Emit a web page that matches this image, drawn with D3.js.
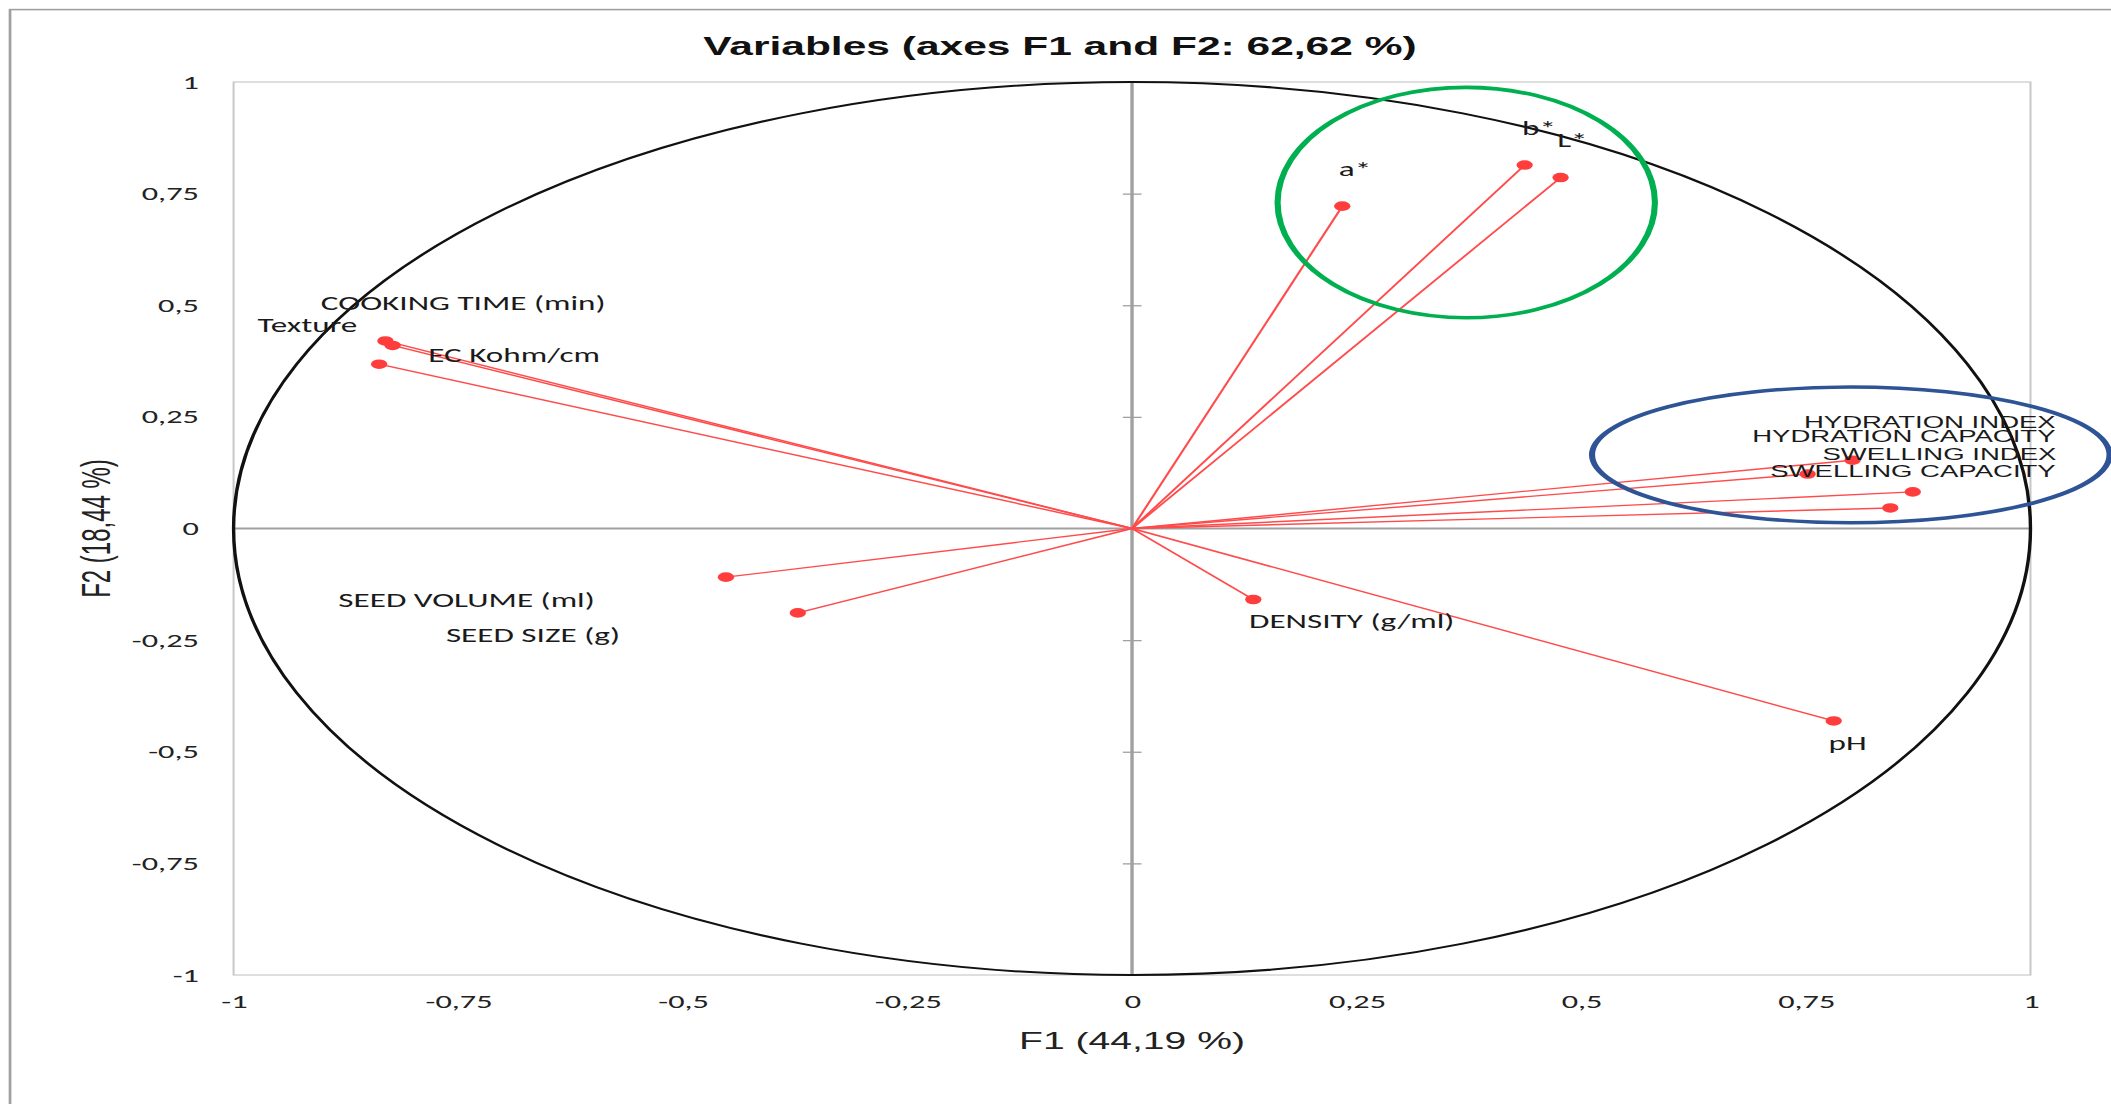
<!DOCTYPE html>
<html>
<head>
<meta charset="utf-8">
<script src="https://cdn.jsdelivr.net/npm/d3@7"></script>
<style>
  html, body { margin: 0; padding: 0; background: #fff; }
  svg { display: block; }
</style>
</head>
<body>
<div id="chart"></div>
<script>
// loadings of each variable on F1 / F2
const variables = ["COOKING TIME (min)", "EC Kohm/cm", "Texture", "SEED VOLUME (ml)", "SEED SIZE (g)",
    "a*", "b*", "L*", "DENSITY (g/ml)", "pH",
    "HYDRATION INDEX", "HYDRATION CAPACITY", "SWELLING INDEX", "SWELLING CAPACITY"];
const f1 = [-0.831, -0.823, -0.838, -0.452, -0.372, 0.234, 0.437, 0.477, 0.135, 0.781, 0.802, 0.752, 0.869, 0.844];
const f2 = [0.420, 0.410, 0.368, -0.109, -0.189, 0.722, 0.814, 0.786, -0.159, -0.431, 0.153, 0.122, 0.082, 0.046];

const ticks = [-1, -0.75, -0.5, -0.25, 0, 0.25, 0.5, 0.75, 1];
const title = "Variables (axes F1 and F2: 62,62 %)";
const xTitle = "F1 (44,19 %)";
const yTitle = "F2 (18,44 %)";

// the two hand drawn groupings (centre and radii in loading units)
const groupCx = [0.372, 0.80];
const groupCy = [0.730, 0.165];
const groupRx = [0.21, 0.288];
const groupRy = [0.258, 0.152];
const groupColor = ["#00b050", "#2f5496"];

// where XLSTAT put each label, relative to its point
const labelLayout = {
    "COOKING TIME (min)": { dx: -38, dy: -31, anchor: "start" },
    "EC Kohm/cm": { dx: 21, dy: 17, anchor: "start" },
    "Texture": { dx: -71.5, dy: -32, anchor: "start" },
    "SEED VOLUME (ml)": { dx: -228, dy: 29.5, anchor: "start" },
    "SEED SIZE (g)": { dx: -207, dy: 29.5, anchor: "start" },
    "a*": { dx: -2, dy: -30.5, anchor: "start" },
    "b*": { dx: -1.5, dy: -30, anchor: "start" },
    "L*": { dx: -2, dy: -31, anchor: "start" },
    "DENSITY (g/ml)": { dx: -2.5, dy: 28.5, anchor: "start" },
    "pH": { dx: -3, dy: 29.5, anchor: "start" },
    "HYDRATION INDEX": { dx: 119.5, dy: -31.7, anchor: "end", arial: true },
    "HYDRATION CAPACITY": { dx: 145.8, dy: -32.4, anchor: "end", arial: true },
    "SWELLING INDEX": { dx: 84.5, dy: -31.8, anchor: "end", arial: true },
    "SWELLING CAPACITY": { dx: 97.3, dy: -31.3, anchor: "end", arial: true }
};

// the picture is stretched sideways, so draw narrow and scale the svg
const W = 2111, H = 1104, sx = 1.7;
const vbW = W / sx;
const plot = { left: 137.4, right: 1194.4, top: 82, bottom: 975 };
const calibri = "Carlito, Lato, sans-serif";
const arial = "'Liberation Sans', Arial, sans-serif";

const svg = d3.select("#chart")
    .append("svg")
    .attr("width", W)
    .attr("height", H)
    .attr("viewBox", `0 0 ${vbW} ${H}`)
    .attr("preserveAspectRatio", "none");

const x = d3.scaleLinear().domain([-1, 1]).range([plot.left, plot.right]);
const y = d3.scaleLinear().domain([-1, 1]).range([plot.bottom, plot.top]);
const fmt = d => String(d).replace(".", ",");

// chart frame (right and bottom edges fall outside the picture)
svg.append("rect")
    .attr("x", 5.9).attr("y", 9.6)
    .attr("width", vbW + 50).attr("height", H + 50)
    .attr("fill", "#fff")
    .attr("stroke", "#a0a0a0")
    .attr("stroke-width", 1.6);

// plot area
svg.append("rect")
    .attr("x", plot.left).attr("y", plot.top)
    .attr("width", plot.right - plot.left).attr("height", plot.bottom - plot.top)
    .attr("fill", "#fff")
    .attr("stroke", "#c8c8c8")
    .attr("stroke-width", 1.2);

// zero axes
svg.append("line")
    .attr("x1", plot.left).attr("x2", plot.right)
    .attr("y1", y(0)).attr("y2", y(0))
    .attr("stroke", "#a0a0a0").attr("stroke-width", 2);
svg.append("line")
    .attr("x1", x(0)).attr("x2", x(0))
    .attr("y1", plot.top).attr("y2", plot.bottom)
    .attr("stroke", "#a0a0a0").attr("stroke-width", 2);

// cross ticks on the vertical zero axis
const crossTicks = svg.append("g")
    .attr("transform", `translate(${x(0) + 5.6},0)`)
    .call(d3.axisLeft(y).tickValues(ticks.filter(t => Math.abs(t) !== 1 && t !== 0)).tickSize(11).tickFormat(""));
crossTicks.select(".domain").remove();
crossTicks.selectAll(".tick line").attr("stroke", "#a0a0a0").attr("stroke-width", 1.3);

// correlation circle
svg.append("ellipse")
    .attr("cx", x(0)).attr("cy", y(0))
    .attr("rx", x(1) - x(0)).attr("ry", y(0) - y(1))
    .attr("fill", "none")
    .attr("stroke", "#111")
    .attr("stroke-width", 2);

const pts = variables.map((name, i) => ({ name: name, f1: f1[i], f2: f2[i] }));

// vectors from the origin
svg.append("g").selectAll("line")
    .data(pts)
    .join("line")
    .attr("x1", x(0)).attr("y1", y(0))
    .attr("x2", d => x(d.f1)).attr("y2", d => y(d.f2))
    .attr("stroke", "#ff4b4b")
    .attr("stroke-width", 1.4);

svg.append("g").selectAll("circle")
    .data(pts)
    .join("circle")
    .attr("cx", d => x(d.f1)).attr("cy", d => y(d.f2))
    .attr("r", 4.8)
    .attr("fill", "#ff3d3d");

// labels
svg.append("g").selectAll("text")
    .data(pts)
    .join("text")
    .attr("x", d => x(d.f1) + labelLayout[d.name].dx)
    .attr("y", d => y(d.f2) + labelLayout[d.name].dy)
    .attr("text-anchor", d => labelLayout[d.name].anchor)
    .attr("font-family", d => labelLayout[d.name].arial ? arial : calibri)
    .attr("font-size", d => labelLayout[d.name].arial ? 16.2 : 19.5)
    .attr("fill", "#1a1a1a")
    .text(d => d.name);

// group highlights
svg.append("g").selectAll("ellipse")
    .data(groupCx)
    .join("ellipse")
    .attr("cx", (d, i) => x(groupCx[i]))
    .attr("cy", (d, i) => y(groupCy[i]))
    .attr("rx", (d, i) => x(groupRx[i]) - x(0))
    .attr("ry", (d, i) => y(0) - y(groupRy[i]))
    .attr("fill", "none")
    .attr("stroke", (d, i) => groupColor[i])
    .attr("stroke-width", 3.6);

// tick labels
const yAxis = svg.append("g")
    .attr("transform", `translate(${plot.left},0)`)
    .call(d3.axisLeft(y).tickValues(ticks).tickFormat(fmt).tickSize(0).tickPadding(20.4));
const xAxis = svg.append("g")
    .attr("transform", `translate(0,${plot.bottom})`)
    .call(d3.axisBottom(x).tickValues(ticks).tickFormat(fmt).tickSize(0).tickPadding(20));
[yAxis, xAxis].forEach(g => {
    g.select(".domain").remove();
    g.selectAll("text")
        .attr("font-family", calibri)
        .attr("font-size", 19)
        .attr("fill", "#222");
});

// titles
svg.append("text")
    .attr("x", 623.5).attr("y", 55.4)
    .attr("text-anchor", "middle")
    .attr("font-family", arial)
    .attr("font-weight", "bold")
    .attr("font-size", 25)
    .attr("fill", "#111")
    .text(title);

svg.append("text")
    .attr("x", x(0)).attr("y", 1049)
    .attr("text-anchor", "middle")
    .attr("font-family", arial)
    .attr("font-size", 23)
    .attr("fill", "#222")
    .text(xTitle);

svg.append("text")
    .attr("transform", `translate(64.7,${y(0)}) rotate(-90)`)
    .attr("text-anchor", "middle")
    .attr("font-family", arial)
    .attr("font-size", 24)
    .attr("fill", "#222")
    .text(yTitle);
</script>
</body>
</html>
